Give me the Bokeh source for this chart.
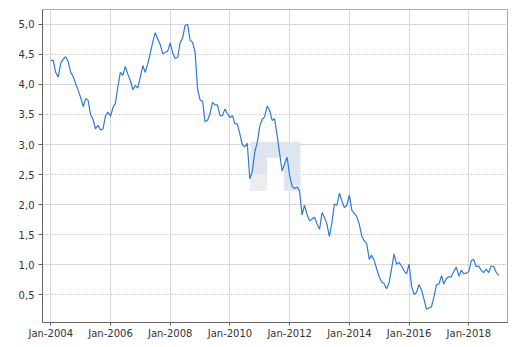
import pandas as pd
from bokeh.plotting import figure
from bokeh.models import (LinearAxis, DatetimeAxis, FixedTicker, Grid, Range1d,
                          DatetimeTickFormatter, CustomJSTickFormatter)
from bokeh.embed import file_html
from bokeh.resources import INLINE

# ---- data (monthly, Jan 2004 .. Jan 2019) ----
start_month = "2004-01-01"
values = [
    4.40, 4.40, 4.20, 4.12, 4.35, 4.42, 4.46, 4.38, 4.20, 4.13, 4.01, 3.90,  # 2004
    3.78, 3.63, 3.76, 3.74, 3.50, 3.42, 3.26, 3.32, 3.24, 3.26, 3.48, 3.54,  # 2005
    3.47, 3.62, 3.68, 3.96, 4.20, 4.15, 4.30, 4.17, 4.06, 3.91, 3.98, 3.94,  # 2006
    4.13, 4.31, 4.20, 4.34, 4.51, 4.70, 4.86, 4.76, 4.66, 4.51, 4.53, 4.55,  # 2007
    4.69, 4.52, 4.43, 4.45, 4.69, 4.77, 4.98, 5.00, 4.73, 4.70, 4.53, 3.92,  # 2008
    3.74, 3.72, 3.38, 3.40, 3.51, 3.70, 3.66, 3.66, 3.48, 3.48, 3.59, 3.51,  # 2009
    3.45, 3.48, 3.35, 3.34, 3.18, 3.00, 2.96, 3.02, 2.43, 2.54, 2.88, 3.03,  # 2010
    3.31, 3.42, 3.46, 3.64, 3.57, 3.40, 3.43, 3.15, 2.85, 2.56, 2.68, 2.79,  # 2011
    2.48, 2.30, 2.27, 2.29, 2.23, 1.83, 1.99, 1.84, 1.73, 1.76, 1.79, 1.68,  # 2012
    1.59, 1.87, 1.79, 1.68, 1.47, 1.70, 2.01, 1.99, 2.19, 2.06, 1.95, 1.99,  # 2013
    2.16, 1.90, 1.86, 1.80, 1.68, 1.48, 1.40, 1.35, 1.09, 1.16, 1.07, 0.93,  # 2014
    0.80, 0.71, 0.69, 0.60, 0.70, 0.93, 1.18, 1.01, 1.04, 0.98, 0.90, 0.85,  # 2015
    1.01, 0.64, 0.51, 0.54, 0.67, 0.58, 0.43, 0.26, 0.28, 0.30, 0.47, 0.67,  # 2016
    0.68, 0.82, 0.68, 0.77, 0.80, 0.80, 0.89, 0.96, 0.81, 0.91, 0.85, 0.86,  # 2017
    0.89, 1.07, 1.09, 0.97, 0.98, 0.91, 0.87, 0.93, 0.87, 0.98, 0.97, 0.88,  # 2018
    0.82,                                                                    # 2019
]
dates = pd.date_range(start_month, periods=len(values), freq="MS")

tick_years = [2004, 2006, 2008, 2010, 2012, 2014, 2016, 2018]
y_ticks = [0.5, 1.0, 1.5, 2.0, 2.5, 3.0, 3.5, 4.0, 4.5, 5.0]

FONT = "DejaVu Sans"
TXT = "#333333"

x_start = pd.Timestamp("2003-09-22")
x_end = pd.Timestamp("2019-04-19")

p = figure(width=512, height=347, output_backend="svg", toolbar_location=None,
           x_axis_location=None, y_axis_location=None,
           x_range=Range1d(x_start, x_end), y_range=Range1d(0.04, 5.245),
           min_border_left=42, min_border_right=5, min_border_top=9, min_border_bottom=25)
p.outline_line_color = "#aaaaaa"
p.outline_line_width = 1
p.background_fill_color = "white"
p.border_fill_color = "white"

# spacer axes (gap between frame and visible axes)
sp_left = LinearAxis(ticker=FixedTicker(ticks=[]), axis_line_color=None,
                     major_tick_out=5, major_tick_in=0, minor_tick_out=0, minor_tick_in=0,
                     major_label_standoff=0, major_tick_line_color=None)
sp_bottom = LinearAxis(ticker=FixedTicker(ticks=[]), axis_line_color=None,
                       major_tick_out=5, major_tick_in=0, minor_tick_out=0, minor_tick_in=0,
                       major_label_standoff=0, major_tick_line_color=None)
p.add_layout(sp_left, "left")
p.add_layout(sp_bottom, "below")

x_ticks = [pd.Timestamp(f"{y}-01-01").value // 10**6 for y in tick_years]
fmt = "%b-%Y"
xaxis = DatetimeAxis(ticker=FixedTicker(ticks=x_ticks),
                     formatter=DatetimeTickFormatter(years=fmt, months=fmt, days=fmt,
                                                     hours=fmt, minutes=fmt, seconds=fmt,
                                                     milliseconds=fmt, microseconds=fmt),
                     axis_line_color="#666666", major_tick_line_color="#666666",
                     major_tick_out=3, major_tick_in=0, minor_tick_out=0, minor_tick_in=0,
                     major_label_standoff=2,
                     major_label_text_font=FONT, major_label_text_font_size="10px",
                     major_label_text_color=TXT)
yaxis = LinearAxis(ticker=FixedTicker(ticks=y_ticks),
                   formatter=CustomJSTickFormatter(code="return tick.toFixed(1).replace('.', ',');"),
                   axis_line_color="#666666", major_tick_line_color="#666666",
                   major_tick_out=4, major_tick_in=0, minor_tick_out=0, minor_tick_in=0,
                   major_label_standoff=4,
                   major_label_text_font=FONT, major_label_text_font_size="10px",
                   major_label_text_color=TXT)
p.add_layout(xaxis, "below")
p.add_layout(yaxis, "left")

grid_style = dict(grid_line_color="#cccccc", grid_line_dash="2 2", grid_line_width=1)
p.add_layout(Grid(dimension=0, ticker=xaxis.ticker, **grid_style))
p.add_layout(Grid(dimension=1, ticker=yaxis.ticker, **grid_style))

# watermark logo (decoration)
d0 = pd.Timestamp("2004-01-01")
def dx(days):
    return d0 + pd.Timedelta(days=days)
p.quad(left=[dx(2443)], right=[dx(3055)], bottom=[2.231], top=[3.047],
       fill_color="#dfe5ef", line_color=None)
p.quad(left=[dx(2443)], right=[dx(2647)], bottom=[2.231], top=[2.50],
       fill_color="#ededed", line_color=None)
p.quad(left=[dx(2647)], right=[dx(2851)], bottom=[2.231], top=[2.781],
       fill_color="#ffffff", line_color=None)

p.line(dates, values, line_color="#2f7ad6", line_width=1.2)

open("out.html", "w").write(file_html(p, INLINE))
